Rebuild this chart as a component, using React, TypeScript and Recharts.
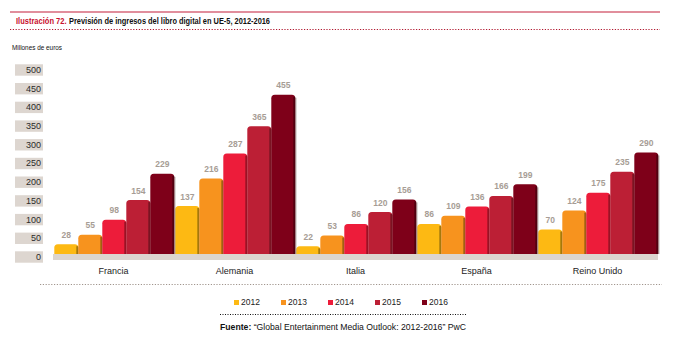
import { BarChart, Bar, XAxis, YAxis, Legend, LabelList, ReferenceArea } from 'recharts';

const categories = ['Francia', 'Alemania', 'Italia', 'España', 'Reino Unido'];
const years = ['2012', '2013', '2014', '2015', '2016'];
const values2012 = [28, 137, 22, 86, 70];
const values2013 = [55, 216, 53, 109, 124];
const values2014 = [98, 287, 86, 136, 175];
const values2015 = [154, 365, 120, 166, 235];
const values2016 = [229, 455, 156, 199, 290];
const yTicks = [0, 50, 100, 150, 200, 250, 300, 350, 400, 450, 500];

const colors = ['#fdb913', '#f7931e', '#ed1c3a', '#bc1f35', '#7e0019'];
const font = '"Liberation Sans", Arial, sans-serif';

const seriesValues = [values2012, values2013, values2014, values2015, values2016];
const data = categories.map((name, i) => {
  const row: Record<string, string | number> = { name };
  years.forEach((yr, j) => {
    row['y' + yr] = seriesValues[j][i];
  });
  return row;
});

// rounded-top bar with a dark strip on its right side
const BarShape = (props: any) => {
  const { x, y, width, height, fill } = props;
  if (!height || height <= 0) return null;
  const r = Math.min(3.5, width / 2, height);
  const d = `M${x},${y + height} L${x},${y + r} Q${x},${y} ${x + r},${y} L${x + width - r},${y} Q${x + width},${y} ${x + width},${y + r} L${x + width},${y + height} Z`;
  return (
    <g>
      <rect x={x + width} y={y + 3} width={1.2} height={height - 3} fill="rgba(60,40,30,0.35)" />
      <path d={d} fill={fill} />
      <rect x={x + width - 2} y={y + 2} width={2} height={height - 2} fill="rgba(0,0,0,0.35)" />
    </g>
  );
};

const BoxTick = (props: any) => {
  const { x, y, payload } = props;
  return (
    <g>
      <rect x={x - 28} y={y - 5.7} width={28} height={11.4} fill="#ddd6d0" />
      <text x={x - 2} y={y + 3} textAnchor="end" fontSize={9} fontFamily={font} fill="#2a2a2a">
        {payload.value}
      </text>
    </g>
  );
};

const LegendContent = (props: any) => {
  const { payload } = props;
  return (
    <div style={{ display: 'flex', paddingLeft: 234, fontFamily: font, fontSize: 8.5, color: '#222' }}>
      {(payload || []).map((p: any) => (
        <div key={p.value} style={{ width: 47, display: 'flex', alignItems: 'center' }}>
          <span style={{ display: 'inline-block', width: 5, height: 5, background: p.color, marginRight: 2 }} />
          <span>{p.value}</span>
        </div>
      ))}
    </div>
  );
};

export default function App() {
  return (
    <div style={{ position: 'absolute', left: 0, top: 0, width: 683, height: 353, background: '#fff' }}>
      <svg width={683} height={353} style={{ position: 'absolute', left: 0, top: 0 }}>
        <line x1={10} x2={660} y1={12} y2={12} stroke="#c41e3a" strokeWidth={1.2} />
        <text x={16} y={24} fontSize={8.5} fontWeight="bold" fontFamily={font} fill="#c8102e"
          textLength={50.5} lengthAdjust="spacingAndGlyphs">Ilustración 72.</text>
        <text x={69} y={24} fontSize={8.5} fontWeight="bold" fontFamily={font} fill="#111"
          textLength={201} lengthAdjust="spacingAndGlyphs">Previsión de ingresos del libro digital en UE-5, 2012-2016</text>
        <line x1={10} x2={660} y1={29.5} y2={29.5} stroke="#b0172f" strokeWidth={1} strokeDasharray="1.2 1.6" />
        <text x={12} y={50} fontSize={7.5} fontFamily={font} fill="#111"
          textLength={50} lengthAdjust="spacingAndGlyphs">Millones de euros</text>
        <line x1={40} x2={662} y1={284.5} y2={284.5} stroke="#a0958d" strokeWidth={1} strokeDasharray="1.2 1.6" />
        <line x1={220} x2={466} y1={314.5} y2={314.5} stroke="#111" strokeWidth={1} strokeDasharray="1 1.5" />
        <text x={220} y={330} fontSize={8.5} fontFamily={font} fill="#111"
          textLength={246} lengthAdjust="spacingAndGlyphs">
          <tspan fontWeight="bold">Fuente:</tspan> “Global Entertainment Media Outlook: 2012-2016” PwC
        </text>
      </svg>
      <div style={{ position: 'absolute', left: 0, top: 0 }}>
        <BarChart
          width={683}
          height={353}
          data={data}
          margin={{ top: 60, right: 25, bottom: 53, left: 15 }}
          barCategoryGap={1.3}
          barGap={0}
        >
          <XAxis
            dataKey="name"
            height={30}
            axisLine={false}
            tickLine={false}
            interval={0}
            tick={{ fontSize: 9, fill: '#222', fontFamily: font }}
          />
          <YAxis
            yAxisId="t"
            type="number"
            width={38}
            domain={[-8, 526.7]}
            ticks={yTicks}
            interval={0}
            allowDataOverflow
            axisLine={false}
            tickLine={false}
            tickSize={0}
            tickMargin={10}
            tick={<BoxTick />}
          />
          <YAxis yAxisId="v" type="number" hide domain={[-17.1, 554.3]} allowDataOverflow />
          <ReferenceArea yAxisId="v" y1={-17.1} y2={0} fill="#dcd5cf" fillOpacity={1} stroke="none" />
          <Legend
            content={<LegendContent />}
            wrapperStyle={{ position: 'absolute', left: 0, top: 297, width: 683 }}
          />
          {years.map((yr, j) => (
            <Bar
              key={yr}
              yAxisId="v"
              dataKey={'y' + yr}
              name={yr}
              fill={colors[j]}
              shape={<BarShape />}
              isAnimationActive={false}
            >
              <LabelList
                dataKey={'y' + yr}
                position="top"
                offset={6.5}
                style={{ fontSize: 8.5, fontWeight: 'bold', fill: '#a79d95', fontFamily: font }}
              />
            </Bar>
          ))}
        </BarChart>
      </div>
    </div>
  );
}
